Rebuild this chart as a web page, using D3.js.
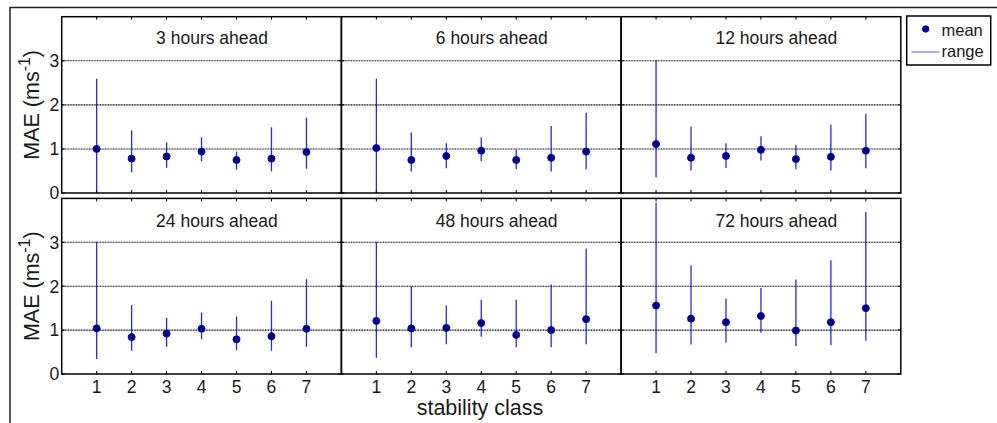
<!DOCTYPE html>
<html>
<head>
<meta charset="utf-8">
<script src="https://cdn.jsdelivr.net/npm/d3@7"></script>
<style>
  html, body { margin: 0; padding: 0; background: #fff; }
  svg { display: block; font-family: "Liberation Sans", Arial, Helvetica, sans-serif; }
</style>
</head>
<body>
<svg id="chart" width="997" height="423"></svg>
<script>
// ---- data ----
const classes = [1, 2, 3, 4, 5, 6, 7];
const horizons = ["3 hours ahead", "6 hours ahead", "12 hours ahead",
                  "24 hours ahead", "48 hours ahead", "72 hours ahead"];
const yTicks = [0, 1, 2, 3];
const means = [
  [1.00, 0.78, 0.83, 0.94, 0.75, 0.78, 0.93],
  [1.02, 0.75, 0.84, 0.96, 0.75, 0.80, 0.94],
  [1.11, 0.80, 0.84, 0.98, 0.77, 0.82, 0.96],
  [1.04, 0.84, 0.92, 1.03, 0.79, 0.86, 1.03],
  [1.21, 1.04, 1.05, 1.16, 0.89, 1.00, 1.25],
  [1.56, 1.26, 1.18, 1.32, 0.99, 1.18, 1.50]
];
const lows = [
  [0.00, 0.47, 0.57, 0.72, 0.53, 0.49, 0.55],
  [0.00, 0.49, 0.56, 0.72, 0.54, 0.49, 0.54],
  [0.35, 0.51, 0.57, 0.74, 0.54, 0.51, 0.56],
  [0.34, 0.53, 0.62, 0.79, 0.54, 0.53, 0.62],
  [0.37, 0.61, 0.68, 0.85, 0.61, 0.61, 0.68],
  [0.47, 0.67, 0.72, 0.94, 0.64, 0.66, 0.76]
];
const highs = [
  [2.59, 1.42, 1.15, 1.26, 0.94, 1.49, 1.71],
  [2.59, 1.37, 1.13, 1.26, 0.98, 1.52, 1.82],
  [3.02, 1.51, 1.13, 1.29, 1.09, 1.55, 1.80],
  [3.01, 1.57, 1.28, 1.40, 1.31, 1.67, 2.16],
  [3.01, 1.99, 1.56, 1.69, 1.69, 2.04, 2.86],
  [3.90, 2.48, 1.72, 1.96, 2.15, 2.59, 3.69]
];
const legendLabels = ["mean", "range"];
const yLabel = "MAE (ms";
const xLabel = "stability class";

// ---- layout ----
const svg = d3.select("#chart");
const textColor = "#1a1a1a";
const panelLeft = 61.7, panelW = 279.7;
const rowTops = [16.7, 198.4], rowBottoms = [193.0, 374.0];

// outer figure frame (extends beyond window)
svg.append("rect").attr("x", 10).attr("y", 7.5).attr("width", 1000).attr("height", 430)
  .attr("fill", "none").attr("stroke", "#222").attr("stroke-width", 1.5);

horizons.forEach((title, p) => {
  const col = p % 3, row = Math.floor(p / 3);
  const x0 = panelLeft + col * panelW;
  const x = d3.scaleLinear().domain([0, 8]).range([x0, x0 + panelW]);
  const y = d3.scaleLinear().domain([0, 4]).range([rowBottoms[row], rowTops[row]]);
  const g = svg.append("g");

  // grid lines
  g.selectAll("line.grid").data([1, 2, 3]).enter().append("line")
    .attr("x1", x(0)).attr("x2", x(8))
    .attr("y1", d => y(d)).attr("y2", d => y(d))
    .attr("stroke", "#000").attr("stroke-width", 1.1)
    .attr("stroke-dasharray", "1,0.6");

  // ticks (inward, both sides)
  const tl = 3;
  g.selectAll("line.xtb").data(classes).enter().append("line")
    .attr("x1", d => x(d)).attr("x2", d => x(d))
    .attr("y1", y(0)).attr("y2", y(0) - tl).attr("stroke", "#000");
  g.selectAll("line.xtt").data(classes).enter().append("line")
    .attr("x1", d => x(d)).attr("x2", d => x(d))
    .attr("y1", y(4)).attr("y2", y(4) + tl).attr("stroke", "#000");
  g.selectAll("line.ytl").data(yTicks).enter().append("line")
    .attr("x1", x(0)).attr("x2", x(0) + tl)
    .attr("y1", d => y(d)).attr("y2", d => y(d)).attr("stroke", "#000");
  g.selectAll("line.ytr").data(yTicks).enter().append("line")
    .attr("x1", x(8)).attr("x2", x(8) - tl)
    .attr("y1", d => y(d)).attr("y2", d => y(d)).attr("stroke", "#000");

  // range lines
  g.selectAll("line.range").data(classes).enter().append("line")
    .attr("x1", d => x(d)).attr("x2", d => x(d))
    .attr("y1", (d, i) => y(lows[p][i])).attr("y2", (d, i) => y(highs[p][i]))
    .attr("stroke", "#0000ff").attr("stroke-width", 1.3).attr("opacity", 0.85);

  // means
  g.selectAll("circle.mean").data(classes).enter().append("circle")
    .attr("cx", d => x(d)).attr("cy", (d, i) => y(means[p][i]))
    .attr("r", 3.5).attr("fill", "#000070").attr("stroke", "#0000ff").attr("stroke-width", 1);

  // frame
  g.append("rect").attr("x", x(0)).attr("y", y(4))
    .attr("width", x(8) - x(0)).attr("height", y(0) - y(4))
    .attr("fill", "none").attr("stroke", "#000").attr("stroke-width", 1.5);

  // title
  g.append("text").attr("x", x(2.7)).attr("y", row === 0 ? 44 : 226.5)
    .attr("fill", textColor).attr("font-size", "17.5px").text(title);

  // y tick labels on left column
  if (col === 0) {
    g.selectAll("text.yt").data(yTicks).enter().append("text")
      .attr("x", x(0) - 2.5).attr("y", d => y(d) + 6.3)
      .attr("text-anchor", "end").attr("fill", textColor)
      .attr("font-size", "17.5px").text(d => d);
    const cy = (rowTops[row] + rowBottoms[row]) / 2;
    const t = g.append("text").attr("transform", `translate(39,${cy}) rotate(-90)`)
      .attr("text-anchor", "middle").attr("fill", textColor).attr("font-size", "21.5px");
    t.append("tspan").text(yLabel);
    t.append("tspan").attr("dy", -9).attr("font-size", "16px").text("-1");
    t.append("tspan").attr("dy", 9).text(")");
  }
  // x tick labels on bottom row
  if (row === 1) {
    g.selectAll("text.xt").data(classes).enter().append("text")
      .attr("x", d => x(d)).attr("y", 392.7)
      .attr("text-anchor", "middle").attr("fill", textColor)
      .attr("font-size", "17.5px").text(d => d);
  }
});

// x label
svg.append("text").attr("x", 480).attr("y", 415).attr("text-anchor", "middle")
  .attr("fill", textColor).attr("font-size", "21.5px").text(xLabel);

// legend
const lg = svg.append("g");
lg.append("rect").attr("x", 906.7).attr("y", 16).attr("width", 84).attr("height", 49)
  .attr("fill", "#fff").attr("stroke", "#000").attr("stroke-width", 1.5);
lg.append("circle").attr("cx", 925.7).attr("cy", 29).attr("r", 3.2)
  .attr("fill", "#000070").attr("stroke", "#0000ff");
lg.append("line").attr("x1", 911.5).attr("x2", 939.5).attr("y1", 52).attr("y2", 52)
  .attr("stroke", "#0000ff").attr("stroke-width", 1.2).attr("opacity", 0.55);
lg.selectAll("text.lg").data(legendLabels).enter().append("text")
  .attr("x", 941.5).attr("y", (d, i) => i === 0 ? 35.5 : 56.5)
  .attr("fill", textColor).attr("font-size", "16.5px").text(d => d);
</script>
</body>
</html>
